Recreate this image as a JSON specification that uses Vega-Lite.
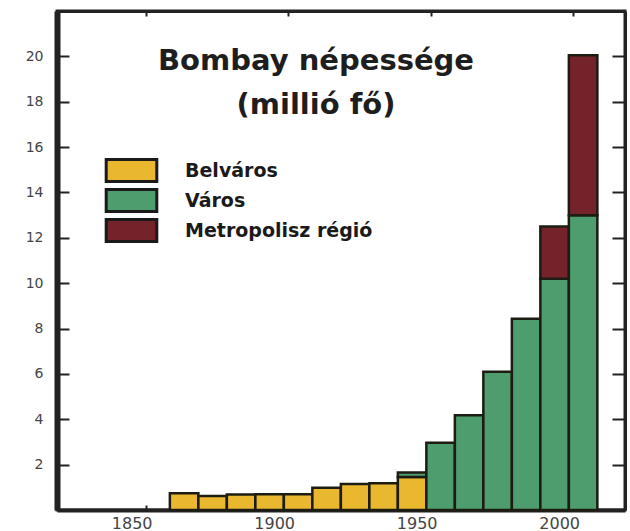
{
  "$schema": "https://vega.github.io/schema/vega-lite/v6.json",
  "width": 568,
  "height": 499,
  "autosize": {"type": "none"},
  "padding": {"left": 57, "top": 11, "right": 5, "bottom": 21},
  "background": "white",
  "config": {"view": {"stroke": "#222", "strokeWidth": 3}, "font": "DejaVu Sans"},
  "title": {
    "text": "Bombay népessége",
    "subtitle": "(millió fő)",
    "anchor": "middle",
    "frame": "group",
    "dx": -25,
    "offset": -110,
    "font": "DejaVu Sans",
    "fontSize": 29,
    "fontWeight": "bold",
    "color": "#1e1e1e",
    "subtitleFont": "DejaVu Sans",
    "subtitleFontSize": 29,
    "subtitleFontWeight": "bold",
    "subtitleColor": "#1e1e1e",
    "subtitlePadding": 15
  },
  "data": {
    "values": [
      {"from": 1858.5, "to": 1868.5, "type": "Belváros", "low": 0, "high": 0.74},
      {"from": 1868.5, "to": 1878.5, "type": "Belváros", "low": 0, "high": 0.62},
      {"from": 1878.5, "to": 1888.5, "type": "Belváros", "low": 0, "high": 0.68},
      {"from": 1888.5, "to": 1898.5, "type": "Belváros", "low": 0, "high": 0.69},
      {"from": 1898.5, "to": 1908.5, "type": "Belváros", "low": 0, "high": 0.69},
      {"from": 1908.5, "to": 1918.5, "type": "Belváros", "low": 0, "high": 0.98},
      {"from": 1918.5, "to": 1928.5, "type": "Belváros", "low": 0, "high": 1.15},
      {"from": 1928.5, "to": 1938.5, "type": "Belváros", "low": 0, "high": 1.18},
      {"from": 1938.5, "to": 1948.5, "type": "Belváros", "low": 0, "high": 1.45},
      {"from": 1938.5, "to": 1948.5, "type": "Város", "low": 1.45, "high": 1.65},
      {"from": 1948.5, "to": 1958.5, "type": "Város", "low": 0, "high": 2.97},
      {"from": 1958.5, "to": 1968.5, "type": "Város", "low": 0, "high": 4.18},
      {"from": 1968.5, "to": 1978.5, "type": "Város", "low": 0, "high": 6.1},
      {"from": 1978.5, "to": 1988.5, "type": "Város", "low": 0, "high": 8.43},
      {"from": 1988.5, "to": 1998.5, "type": "Város", "low": 0, "high": 10.2},
      {"from": 1988.5, "to": 1998.5, "type": "Metropolisz régió", "low": 10.2, "high": 12.5},
      {"from": 1998.5, "to": 2008.5, "type": "Város", "low": 0, "high": 13.0},
      {"from": 1998.5, "to": 2008.5, "type": "Metropolisz régió", "low": 13.0, "high": 20.05}
    ]
  },
  "layer": [
    {
      "mark": {"type": "bar", "stroke": "#1c1c12", "strokeWidth": 2.5, "opacity": 1},
      "encoding": {
        "x": {
          "field": "from",
          "type": "quantitative",
          "scale": {"domain": [1818.9, 2018.2], "nice": false, "zero": false},
          "axis": {
            "orient": "bottom",
            "values": [1850, 1900, 1950, 2000],
            "format": "d",
            "title": null,
            "grid": false,
            "tickSize": -5,
            "tickWidth": 2,
            "tickColor": "#222",
            "domainWidth": 4,
            "domainColor": "#222",
            "labelFont": "DejaVu Sans",
            "labelFontSize": 16,
            "labelColor": "#444",
            "labelPadding": 10,
            "labelOffset": -14
          }
        },
        "x2": {"field": "to"},
        "y": {
          "field": "low",
          "type": "quantitative",
          "scale": {"domain": [0, 22], "nice": false},
          "axis": {
            "orient": "left",
            "values": [2, 4, 6, 8, 10, 12, 14, 16, 18, 20],
            "title": null,
            "grid": false,
            "tickSize": -12,
            "tickWidth": 2,
            "tickColor": "#222",
            "domainWidth": 6,
            "domainColor": "#222",
            "labelFont": "DejaVu Sans",
            "labelFontSize": 14,
            "labelColor": "#444",
            "labelPadding": 26
          }
        },
        "y2": {"field": "high"},
        "color": {
          "field": "type",
          "type": "nominal",
          "scale": {
            "domain": ["Belváros", "Város", "Metropolisz régió"],
            "range": ["#E9B82F", "#4E9D6F", "#74232A"]
          },
          "legend": {
            "orient": "none",
            "legendX": 62,
            "legendY": 147,
            "title": null,
            "padding": 0,
            "symbolType": "M-2.3,-1H2.3V1H-2.3Z",
            "symbolSize": 484,
            "symbolStrokeColor": "#1a1a1a",
            "symbolStrokeWidth": 3,
            "symbolOpacity": 1,
            "labelFont": "DejaVu Sans",
            "labelFontSize": 19,
            "labelFontWeight": "bold",
            "labelColor": "#1a1a1a",
            "labelOffset": 41,
            "labelLimit": 0,
            "rowPadding": -7
          }
        }
      }
    },
    {
      "mark": {"type": "point", "opacity": 0},
      "encoding": {
        "x": {
          "field": "from",
          "type": "quantitative",
          "axis": {
            "orient": "top",
            "values": [1850, 1900, 1950, 2000],
            "labels": false,
            "title": null,
            "grid": false,
            "tickSize": -5,
            "tickWidth": 2,
            "tickColor": "#222",
            "domainWidth": 3,
            "domainColor": "#222"
          }
        },
        "y": {
          "field": "high",
          "type": "quantitative",
          "axis": {
            "orient": "right",
            "values": [2, 4, 6, 8, 10, 12, 14, 16, 18, 20],
            "labels": false,
            "title": null,
            "grid": false,
            "tickSize": -13,
            "tickWidth": 2,
            "tickColor": "#222",
            "domainWidth": 3,
            "domainColor": "#222"
          }
        }
      }
    }
  ],
  "resolve": {"axis": {"x": "independent", "y": "independent"}}
}
